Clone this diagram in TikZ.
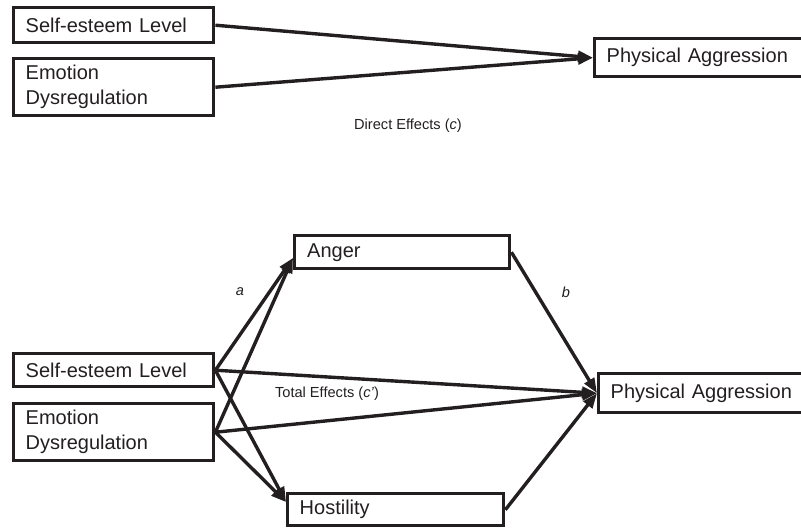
\documentclass[tikz,border=0pt]{standalone}
\usepackage{fontspec}
\setmainfont{Liberation Sans}
\usepackage{xcolor}
\usetikzlibrary{arrows.meta}
\definecolor{ink}{HTML}{231F20}
\tikzset{
  box/.style={draw=ink, line width=1.7pt, anchor=north west, align=left, inner xsep=5pt,
    font=\fontsize{10}{12.5}\selectfont, text=ink},
  arr/.style={draw=ink, line width=1.7pt, -{Triangle[length=7.5pt,width=5.5pt]}},
  lab/.style={text=ink, font=\fontsize{7.3}{9}\selectfont},
}

\begin{document}
\begin{tikzpicture}[x=0.5pt,y=-0.5pt]
  \useasboundingbox (0,0) rectangle (801,527);
  \clip (0,0) rectangle (801,527);
  % direct effects
  \node[box, minimum width=100pt, minimum height=17.5pt, text width=88pt] (se1) at (12,6) {Self-esteem Level};
  \node[box, minimum width=100pt, minimum height=28.5pt, text width=88pt] (ed1) at (12,57) {Emotion\\Dysregulation};
  \node[box, minimum width=110pt, minimum height=19pt, text width=98pt] (pa1) at (593,37) {Physical Aggression};
  \draw[arr] (se1.east) -- (pa1.west);
  \draw[arr] (ed1.east) -- (pa1.west);
  \node[lab] (dir) at (408,126) {Direct Effects (\textit{c})};
  % total effects
  \node[box, minimum width=107.5pt, minimum height=16.5pt, text width=95pt] (anger) at (293,234) {Anger};
  \node[box, minimum width=108pt, minimum height=16pt, text width=96pt] (host) at (286,492) {Hostility};
  \node[box, minimum width=100pt, minimum height=16.5pt, text width=88pt] (se2) at (12,352) {Self-esteem Level};
  \node[box, minimum width=100pt, minimum height=28.5pt, text width=88pt] (ed2) at (12,402) {Emotion\\Dysregulation};
  \node[box, minimum width=110pt, minimum height=19.5pt, text width=98pt] (pa2) at (597,372) {Physical Aggression};
  \draw[arr] (se2.east) -- (anger.183);
  \draw[arr] (ed2.east) -- (anger.183);
  \draw[arr] (se2.east) -- (host.176);
  \draw[arr] (ed2.east) -- (host.176);
  \draw[arr] (se2.east) -- (pa2.west);
  \draw[arr] (ed2.east) -- (pa2.west);
  \draw[arr] (anger.east) -- (pa2.west);
  \draw[arr] (host.east) -- (pa2.west);
  \node[lab] (a) at (240,292) {\textit{a}};
  \node[lab] (b) at (566,292) {\textit{b}};
  \node[lab] (tot) at (327,394) {Total Effects (\textit{c'})};
\end{tikzpicture}
\end{document}
